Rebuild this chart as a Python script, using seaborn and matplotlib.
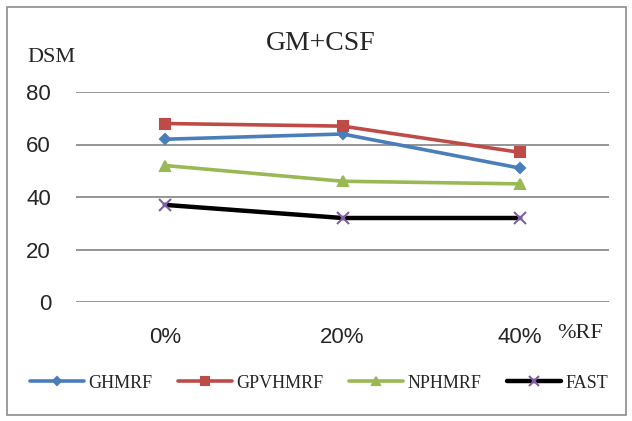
import numpy as np
import pandas as pd
import matplotlib
matplotlib.use('Agg')
import matplotlib.pyplot as plt
import seaborn as sns
from matplotlib.patches import Rectangle

# data
categories = ['0%', '20%', '40%']
ghmrf = [62, 64, 51]
gpvhmrf = [68, 67, 57]
nphmrf = [52, 46, 45]
fast = [37, 32, 32]
series_names = ['GHMRF', 'GPVHMRF', 'NPHMRF', 'FAST']
y_ticks = [0, 20, 40, 60, 80]

df = pd.DataFrame({'rf': categories * 4,
                   'pos': list(range(len(categories))) * 4,
                   'dsm': ghmrf + gpvhmrf + nphmrf + fast,
                   'method': np.repeat(series_names, len(categories))})

sns.set_style('white')
serif = ['Liberation Serif', 'DejaVu Serif']
sansf = ['Liberation Sans', 'DejaVu Sans']

colors = {'GHMRF': '#4A7EBB', 'GPVHMRF': '#BE4B48', 'NPHMRF': '#98B954', 'FAST': '#000000'}
markers = {'GHMRF': 'D', 'GPVHMRF': 's', 'NPHMRF': '^', 'FAST': 'x'}
msize = {'GHMRF': 5.5, 'GPVHMRF': 7, 'NPHMRF': 7.5, 'FAST': 8}
leg_msize = {'GHMRF': 4, 'GPVHMRF': 5.5, 'NPHMRF': 5.5, 'FAST': 6.5}
mcolor = {'GHMRF': '#4A7EBB', 'GPVHMRF': '#BE4B48', 'NPHMRF': '#98B954', 'FAST': '#7E5FA0'}

fig = plt.figure(figsize=(6.32, 4.21), dpi=100)
ax = fig.add_axes([76 / 632, 119 / 421, 533 / 632, 210 / 421])

for m in series_names:
    sub = df[df['method'] == m]
    sns.lineplot(data=sub, x='pos', y='dsm', ax=ax, color=colors[m],
                 linewidth=2.6 if m != 'FAST' else 3.2, label=m,
                 marker=markers[m], markersize=msize[m],
                 markerfacecolor=mcolor[m], markeredgecolor=mcolor[m],
                 markeredgewidth=1.5)

ax.set_xlim(-0.5, len(categories) - 0.5)
ax.set_ylim(0, 80)
ax.set_yticks(y_ticks)
ax.set_xticks(range(len(categories)))
ax.set_xticklabels(categories)
for y in y_ticks:
    ax.axhline(y, color='#8C8C8C', linewidth=1.3, zorder=0)
for s in ax.spines.values():
    s.set_visible(False)
ax.tick_params(length=0, labelsize=16)
ax.tick_params(axis='x', pad=18)
ax.tick_params(axis='y', pad=18)
for lab in ax.get_xticklabels() + ax.get_yticklabels():
    lab.set_family(sansf)
ax.set_xlabel('')
ax.set_ylabel('')

fig.text(321 / 632, 1 - 44 / 421, 'GM+CSF', family=serif, fontsize=20,
         ha='center', va='center')
fig.text(27 / 632, 1 - 57 / 421, 'DSM', family=serif, fontsize=16,
         ha='left', va='center')
fig.text(557 / 632, 1 - 333 / 421, '%RF', family=serif, fontsize=16,
         ha='left', va='center')

handles, labels = ax.get_legend_handles_labels()
ax.legend_.remove()
leg = fig.legend(handles, labels, loc='center', bbox_to_anchor=(319 / 632, 1 - 383 / 421),
                 ncol=4, frameon=False, prop={'family': serif, 'size': 13},
                 handlelength=3.0, handletextpad=0.25, columnspacing=1.4)
for h, m in zip(leg.legend_handles, labels):
    h.set_markersize(leg_msize[m])

fig.patches.append(Rectangle((7 / 632, 6 / 421), 619 / 632, 408 / 421,
                             transform=fig.transFigure, fill=False,
                             edgecolor='#8C8C8C', linewidth=1.2))

fig.savefig('out.png', dpi=100)
